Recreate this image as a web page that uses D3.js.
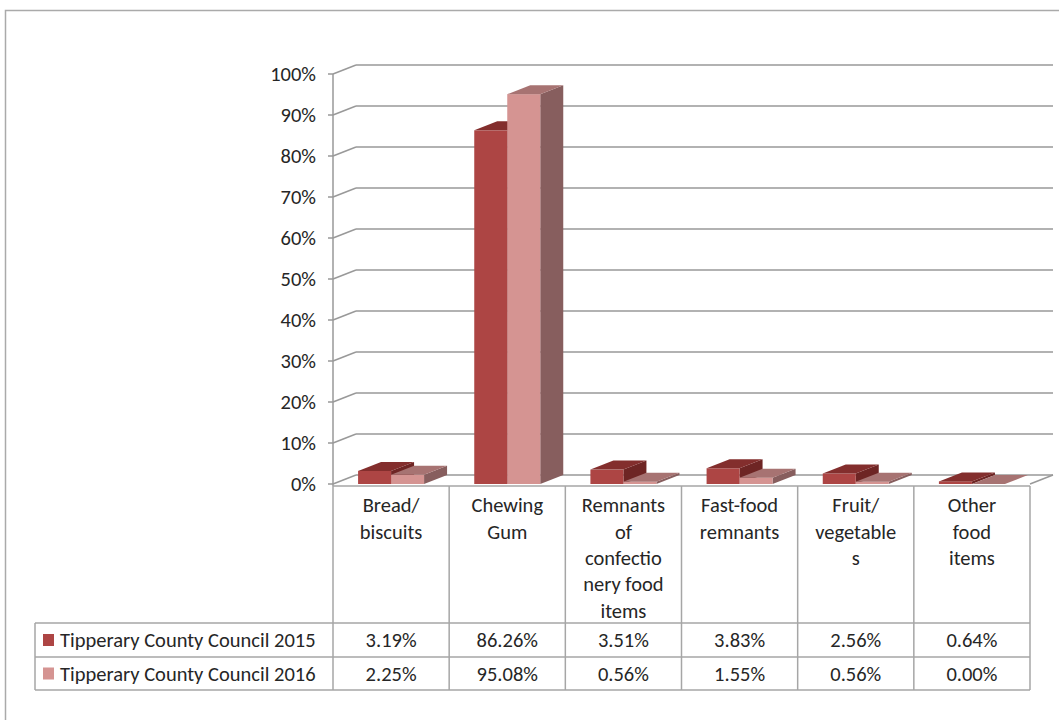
<!DOCTYPE html>
<html>
<head>
<meta charset="utf-8">
<script src="https://cdn.jsdelivr.net/npm/d3@7"></script>
<style>
  html, body { margin: 0; padding: 0; background: #fff; }
  svg { display: block; }
  text { font-family: Carlito, Calibri, Lato, "Liberation Sans", sans-serif; fill: #262626; }
</style>
</head>
<body>
<svg id="chart" width="1059" height="720"></svg>
<script>
// ---- data ----
const categories = ["Bread/biscuits", "Chewing Gum", "Remnants of confectionery food items", "Fast-food remnants", "Fruit/vegetables", "Other food items"];
const categoryLines = [
  ["Bread/", "biscuits"],
  ["Chewing", "Gum"],
  ["Remnants", "of", "confectio", "nery food", "items"],
  ["Fast-food", "remnants"],
  ["Fruit/", "vegetable", "s"],
  ["Other", "food", "items"]
];
const seriesNames = ["Tipperary County Council 2015", "Tipperary County Council 2016"];
const values2015 = [0.0319, 0.8626, 0.0351, 0.0383, 0.0256, 0.0064];
const values2016 = [0.0225, 0.9508, 0.0056, 0.0155, 0.0056, 0.0000];
const yTicks = [0, 0.1, 0.2, 0.3, 0.4, 0.5, 0.6, 0.7, 0.8, 0.9, 1.0];

const seriesValues = [values2015, values2016];
const colors = [
  { front: "#AD4544", top: "#832E2D", side: "#6E2524" },
  { front: "#D59492", top: "#A77372", side: "#875E5E" }
];

const svg = d3.select("#chart");
const gridColor = "#999999";
const tableColor = "#A6A6A6";
const DX = 23, DY = 9;
const FS = "20.5px";

// outer border
svg.append("rect").attr("x", 5.5).attr("y", 10.5).attr("width", 1100).attr("height", 800)
  .attr("fill", "none").attr("stroke", "#AAAAAA").attr("stroke-width", 1.5);

const plotLeft = 333, plotRight = 1030;
const y = d3.scaleLinear().domain([0, 1]).range([484, 74]);
const x = d3.scaleBand().domain(categories).range([plotLeft, plotRight]).paddingInner(0).paddingOuter(0);
const xs = d3.scaleBand().domain(seriesNames).range([0, x.bandwidth()]).paddingInner(0).paddingOuter(0.76);

// back wall gridlines + side wall connectors
const grid = svg.append("g");
yTicks.forEach(t => {
  const yf = y(t);
  grid.append("line").attr("x1", plotLeft + DX).attr("x2", plotRight + DX)
    .attr("y1", yf - DY).attr("y2", yf - DY).attr("stroke", gridColor).attr("stroke-width", 1.5);
  grid.append("line").attr("x1", plotLeft).attr("x2", plotLeft + DX)
    .attr("y1", yf).attr("y2", yf - DY).attr("stroke", gridColor).attr("stroke-width", 1.5);
  grid.append("line").attr("x1", plotLeft - 5).attr("x2", plotLeft)
    .attr("y1", yf).attr("y2", yf).attr("stroke", gridColor).attr("stroke-width", 1.5);
});
// floor right edge
grid.append("line").attr("x1", plotRight).attr("x2", plotRight + DX)
  .attr("y1", y(0)).attr("y2", y(0) - DY).attr("stroke", gridColor).attr("stroke-width", 1.5);
// axis vertical
grid.append("line").attr("x1", plotLeft).attr("x2", plotLeft)
  .attr("y1", y(1)).attr("y2", 486).attr("stroke", gridColor).attr("stroke-width", 1.5);

// y labels
svg.append("g").selectAll("text").data(yTicks).join("text")
  .attr("x", 316).attr("y", d => y(d)).attr("dy", "0.35em")
  .attr("text-anchor", "end").style("font-size", FS)
  .text(d => d3.format(".0%")(d));

// bars
const bars = svg.append("g");
categories.forEach((c, i) => {
  seriesNames.forEach((s, j) => {
    const v = seriesValues[j][i];
    const x0 = x(c) + xs(s), w = xs.bandwidth();
    const yt = y(v), yb = y(0);
    const col = colors[j];
    bars.append("path").attr("d", `M${x0 + w},${yt} L${x0 + w + DX},${yt - DY} L${x0 + w + DX},${yb - DY} L${x0 + w},${yb} Z`)
      .attr("fill", col.side);
    if (yb - yt > 0) bars.append("rect").attr("x", x0).attr("y", yt).attr("width", w).attr("height", yb - yt)
      .attr("fill", col.front);
    bars.append("path").attr("d", `M${x0},${yt} L${x0 + w},${yt} L${x0 + w + DX},${yt - DY} L${x0 + DX},${yt - DY} Z`)
      .attr("fill", col.top);
  });
});

// table
const tbl = svg.append("g");
const tTop = 486, row1 = 623, row2 = 657, tBottom = 690, legLeft = 35;
const hline = (x1, x2, yy) => tbl.append("line").attr("x1", x1).attr("x2", x2).attr("y1", yy).attr("y2", yy)
  .attr("stroke", tableColor).attr("stroke-width", 1.5);
const vline = (xx, y1, y2) => tbl.append("line").attr("x1", xx).attr("x2", xx).attr("y1", y1).attr("y2", y2)
  .attr("stroke", tableColor).attr("stroke-width", 1.5);
hline(plotLeft, plotRight, tTop);
hline(legLeft, plotRight, row1);
hline(legLeft, plotRight, row2);
hline(legLeft, plotRight, tBottom);
vline(legLeft, row1, tBottom);
categories.forEach(c => vline(x(c), tTop, tBottom));
vline(plotRight, tTop, tBottom);

// category labels
categories.forEach((c, i) => {
  const t = tbl.append("text").attr("x", x(c) + x.bandwidth() / 2).attr("text-anchor", "middle")
    .style("font-size", FS);
  categoryLines[i].forEach((ln, k) => {
    t.append("tspan").attr("x", x(c) + x.bandwidth() / 2).attr("y", 505 + k * 26.4).attr("dy", "0.35em").text(ln);
  });
});

// legend rows + values
const rowsY = [(row1 + row2) / 2, (row2 + tBottom) / 2];
seriesNames.forEach((s, j) => {
  tbl.append("rect").attr("x", 43).attr("y", rowsY[j] - 6).attr("width", 11).attr("height", 12)
    .attr("fill", colors[j].front);
  tbl.append("text").attr("x", 60).attr("y", rowsY[j]).attr("dy", "0.35em").style("font-size", FS).text(s);
  categories.forEach((c, i) => {
    tbl.append("text").attr("x", x(c) + x.bandwidth() / 2).attr("y", rowsY[j]).attr("dy", "0.35em")
      .attr("text-anchor", "middle").style("font-size", FS)
      .text(d3.format(".2%")(seriesValues[j][i]));
  });
});
</script>
</body>
</html>
